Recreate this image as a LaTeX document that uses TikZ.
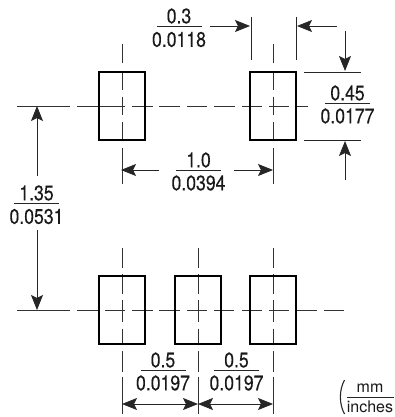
\documentclass[tikz,border=0pt]{standalone}
\usepackage{fontspec}
\setmainfont[FakeStretch=0.84,FakeBold=0.35]{TeX Gyre Heros}
\newfontfamily\unitfont{TeX Gyre Heros}
\usetikzlibrary{arrows.meta}
\tikzset{
  pad/.style={draw=black,line width=1.9pt,minimum width=46pt,minimum height=68pt,inner sep=0pt,outer sep=0pt},
  thin line/.style={draw=black!85,line width=0.85pt},
  center line/.style={draw=black!80,line width=0.85pt},
  dim/.style={thin line,-{Stealth[length=15pt,width=12pt,inset=3pt]}},
  dimboth/.style={thin line,{Stealth[length=15pt,width=12pt,inset=3pt]}-{Stealth[length=15pt,width=12pt,inset=3pt]}},
  val/.style={inner sep=0pt,font=\fontsize{21}{21}\selectfont,text=black!90},
  unit/.style={inner sep=0pt,font=\unitfont\fontsize{16}{16}\selectfont,text=black!90},
}
\newcommand{\fracrule}[3]{\draw[thin line] (#1-22.5,#2) -- (#1+22.5,#2);}
\begin{document}
\begin{tikzpicture}[x=1pt,y=-1pt]
\useasboundingbox (0,0) rectangle (395,417);
% centre lines behind pads
\foreach \a/\b in {17/70,77/125,132/153,159/180,187/207,214/235,242/262,269/289,297/308}
  \draw[center line] (\a,106) -- (\b,106);
\foreach \a/\b in {17/70,77/98,105/125,132/153,159/180,187/207,214/234,242/262,269/289,297/317,324/344}
  \draw[center line] (\a,310) -- (\b,310);
\foreach \x in {122,273}
  \foreach \a/\b in {44/63,71/90,97/115,122/140,148/184}
    \draw[center line] (\x,\a) -- (\x,\b);
\foreach \x in {122,198,273}
  \foreach \a/\b in {248/268,274/294,300/322,329/344,351/372,377/414}
    \draw[center line] (\x,\a) -- (\x,\b);
% pads
\node[pad] (p1) at (122,106) {};
\node[pad] (p2) at (273,106) {};
\node[pad] (p3) at (122,310) {};
\node[pad] (p4) at (198,310) {};
\node[pad] (p5) at (273,310) {};
% extension lines
\draw[thin line] (251,17) -- (251,60);
\draw[thin line] (296,17) -- (296,60);
\draw[thin line] (304,72) -- (361,72);
\draw[thin line] (304,140) -- (361,140);
% dimensions
\draw[dim] (210,26) -- (250,26);
\draw[dim] (337,26) -- (297,26);
\draw[dim] (345,31) -- (345,71);
\draw[dim] (345,180) -- (345,141);
\draw[dim] (159,170) -- (121,170);
\draw[dim] (234,170) -- (273,170);
\draw[dim] (37,176) -- (37,106);
\draw[dim] (37,230) -- (37,310);
\draw[dimboth] (122,404) -- (198,404);
\draw[dimboth] (198,404) -- (273,404);
% labels
\fracrule{179}{26}{}
\node[val] (a1) at (179,16) {0.3};
\node[val] (a2) at (179,39.5) {0.0118};
\fracrule{347.5}{103}{}
\node[val] (b1) at (347.5,93) {0.45};
\node[val] (b2) at (347.5,116) {0.0177};
\fracrule{198.5}{170}{}
\node[val] (c1) at (198.5,160) {1.0};
\node[val] (c2) at (198.5,183) {0.0394};
\fracrule{36.5}{203}{}
\node[val] (d1) at (36.5,193) {1.35};
\node[val] (d2) at (36.5,216.5) {0.0531};
\fracrule{163}{370}{}
\node[val] (e1) at (163,360) {0.5};
\node[val] (e2) at (163,383) {0.0197};
\fracrule{236.5}{370}{}
\node[val] (f1) at (236.5,360) {0.5};
\node[val] (f2) at (236.5,383) {0.0197};
% units
\draw[thin line] (347,397) -- (394,397);
\node[unit] (g1) at (370,388.5) {mm};
\node[unit] (g2) at (370,407) {inches};
\draw[draw=black!85,line width=1.1pt] (344.5,380) .. controls (339,390) and (339,404) .. (344.5,414);
\end{tikzpicture}
\end{document}
